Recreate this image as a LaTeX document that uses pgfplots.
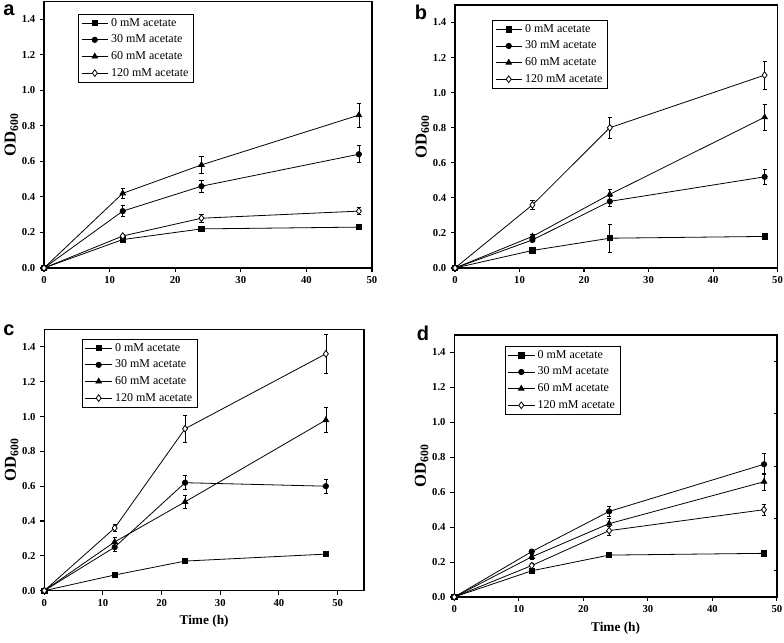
\documentclass[border=0pt]{standalone}
\usepackage{pgfplots}
\pgfplotsset{compat=1.18}
\usepackage{fontspec}
\setmainfont{Liberation Serif}
\newfontfamily\letterfont{Liberation Sans}

\pgfplotsset{
  panel/.style={
    scale only axis, anchor=south west,
    xmin=0, xmax=50, ymin=0, ymax=1.5,
    xtick={0,10,20,30,40,50},
    ytick={0,0.2,0.4,0.6,0.8,1.0,1.2,1.4},
    tick align=outside, tick pos=left,
    major tick length=3pt, minor tick num=0,
    axis line style={line width=0.9pt},
    every tick/.append style={black, line width=0.8pt},
    /pgf/number format/assume math mode=true,
    yticklabel style={/pgf/number format/.cd, fixed, fixed zerofill, precision=1},
    ticklabel style={font=\bfseries\fontsize{8}{9}\selectfont},
    ylabel={OD\textsubscript{600}}, ylabel shift=-4pt,
    ylabel style={font=\bfseries\fontsize{12.5}{14}\selectfont},
    xlabel style={font=\bfseries\fontsize{10}{12}\selectfont},
    legend cell align=left,
    legend style={font=\fontsize{9}{10}\selectfont, draw=black, line width=0.5pt,
      inner xsep=2pt, inner ysep=1pt, row sep=1pt, anchor=north west},
    legend image code/.code={
      \draw[mark repeat=2,mark phase=2] plot coordinates {(0cm,0cm) (0.35cm,0cm) (0.7cm,0cm)};},
    clip=false,
  },
  ser/.style={black, line width=0.6pt, mark size=2pt,
    error bars/y dir=both, error bars/y explicit,
    error bars/error bar style={line width=0.5pt},
    error bars/error mark options={rotate=90, mark size=1.6pt, line width=0.5pt}},
  s0/.style={ser, mark=square*, mark options={solid, fill=black}},
  s30/.style={ser, mark=*, mark options={solid, fill=black}},
  s60/.style={ser, mark=triangle*, mark size=2.4pt, mark options={solid, fill=black}},
  s120/.style={ser, mark=diamond*, mark size=2.5pt, mark options={solid, fill=white}},
}

\begin{document}
\begin{tikzpicture}
\useasboundingbox (0,0) rectangle (588pt,-481.5pt);

% panel a
\begin{axis}[panel, at={(33pt,-201pt)}, width=246pt, height=200pt,
  legend style={at={(0.104,0.953)}}]
\addplot[s0] coordinates {(0,0) +- (0,0) (12,0.16) +- (0,0.01) (24,0.22) +- (0,0.01) (48,0.23) +- (0,0.012)};
\addplot[s30] coordinates {(0,0) +- (0,0) (12,0.32) +- (0,0.03) (24,0.46) +- (0,0.035) (48,0.64) +- (0,0.048)};
\addplot[s60] coordinates {(0,0) +- (0,0) (12,0.42) +- (0,0.03) (24,0.58) +- (0,0.048) (48,0.86) +- (0,0.066)};
\addplot[s120] coordinates {(0,0) +- (0,0) (12,0.18) +- (0,0.01) (24,0.28) +- (0,0.022) (48,0.32) +- (0,0.02)};
\legend{0 mM acetate,30 mM acetate,60 mM acetate,120 mM acetate}
\end{axis}

% panel b
\begin{axis}[panel, at={(341.25pt,-201pt)}, width=241.9pt, height=197.25pt,
  legend style={at={(0.115,0.943)}}]
\addplot[s0] coordinates {(0,0) +- (0,0) (12,0.10) +- (0,0.008) (24,0.17) +- (0,0.08) (48,0.18) +- (0,0.01)};
\addplot[s30] coordinates {(0,0) +- (0,0) (12,0.16) +- (0,0.01) (24,0.38) +- (0,0.027) (48,0.52) +- (0,0.04)};
\addplot[s60] coordinates {(0,0) +- (0,0) (12,0.18) +- (0,0.01) (24,0.42) +- (0,0.03) (48,0.86) +- (0,0.075)};
\addplot[s120] coordinates {(0,0) +- (0,0) (12,0.36) +- (0,0.025) (24,0.80) +- (0,0.06) (48,1.10) +- (0,0.08)};
\legend{0 mM acetate,30 mM acetate,60 mM acetate,120 mM acetate}
\end{axis}

% panel c
\begin{axis}[panel, at={(33.2pt,-443pt)}, width=239.8pt, height=195.9pt, xmax=54.5,
  xlabel={Time (h)}, legend style={at={(0.118,0.964)}}]
\addplot[s0] coordinates {(0,0) +- (0,0) (12,0.09) +- (0,0.008) (24,0.17) +- (0,0.01) (48,0.21) +- (0,0.01)};
\addplot[s30] coordinates {(0,0) +- (0,0) (12,0.25) +- (0,0.025) (24,0.62) +- (0,0.04) (48,0.60) +- (0,0.04)};
\addplot[s60] coordinates {(0,0) +- (0,0) (12,0.28) +- (0,0.025) (24,0.51) +- (0,0.04) (48,0.98) +- (0,0.07)};
\addplot[s120] coordinates {(0,0) +- (0,0) (12,0.36) +- (0,0.02) (24,0.93) +- (0,0.078) (48,1.36) +- (0,0.11)};
\legend{0 mM acetate,30 mM acetate,60 mM acetate,120 mM acetate}
\end{axis}

% panel d
\begin{axis}[panel, at={(340.7pt,-447.75pt)}, width=242pt, height=196.5pt,
  xlabel={Time (h)}, legend style={at={(0.156,0.958)}}]
\addplot[s0] coordinates {(0,0) +- (0,0) (12,0.15) +- (0,0.01) (24,0.24) +- (0,0.01) (48,0.25) +- (0,0.015)};
\addplot[s30] coordinates {(0,0) +- (0,0) (12,0.26) +- (0,0.015) (24,0.49) +- (0,0.03) (48,0.76) +- (0,0.06)};
\addplot[s60] coordinates {(0,0) +- (0,0) (12,0.23) +- (0,0.015) (24,0.42) +- (0,0.03) (48,0.66) +- (0,0.05)};
\addplot[s120] coordinates {(0,0) +- (0,0) (12,0.18) +- (0,0.015) (24,0.38) +- (0,0.025) (48,0.50) +- (0,0.03)};
\legend{0 mM acetate,30 mM acetate,60 mM acetate,120 mM acetate}
\end{axis}
% stray inward ticks on the right edge of panel d
\begin{axis}[scale only axis, anchor=south west, at={(340.7pt,-447.75pt)},
  width=242pt, height=196.5pt, xmin=0, xmax=50, ymin=0, ymax=1.5,
  axis x line=none, axis y line*=right, axis line style={line width=0.9pt},
  ytick={0.15,0.45,0.75,1.05,1.35}, yticklabels={}, tick align=inside,
  major tick length=2.5pt, every tick/.append style={black, line width=0.7pt}]
\addplot[draw=none] coordinates {(0,0)};
\end{axis}

\node[font=\letterfont\bfseries\fontsize{15}{16}\selectfont] at (6.75pt,-7.5pt) {a};
\node[font=\letterfont\bfseries\fontsize{15}{16}\selectfont] at (315.75pt,-9.4pt) {b};
\node[font=\letterfont\bfseries\fontsize{15}{16}\selectfont] at (6.75pt,-247.5pt) {c};
\node[font=\letterfont\bfseries\fontsize{15}{16}\selectfont] at (317.25pt,-249.75pt) {d};
\end{tikzpicture}
\end{document}
